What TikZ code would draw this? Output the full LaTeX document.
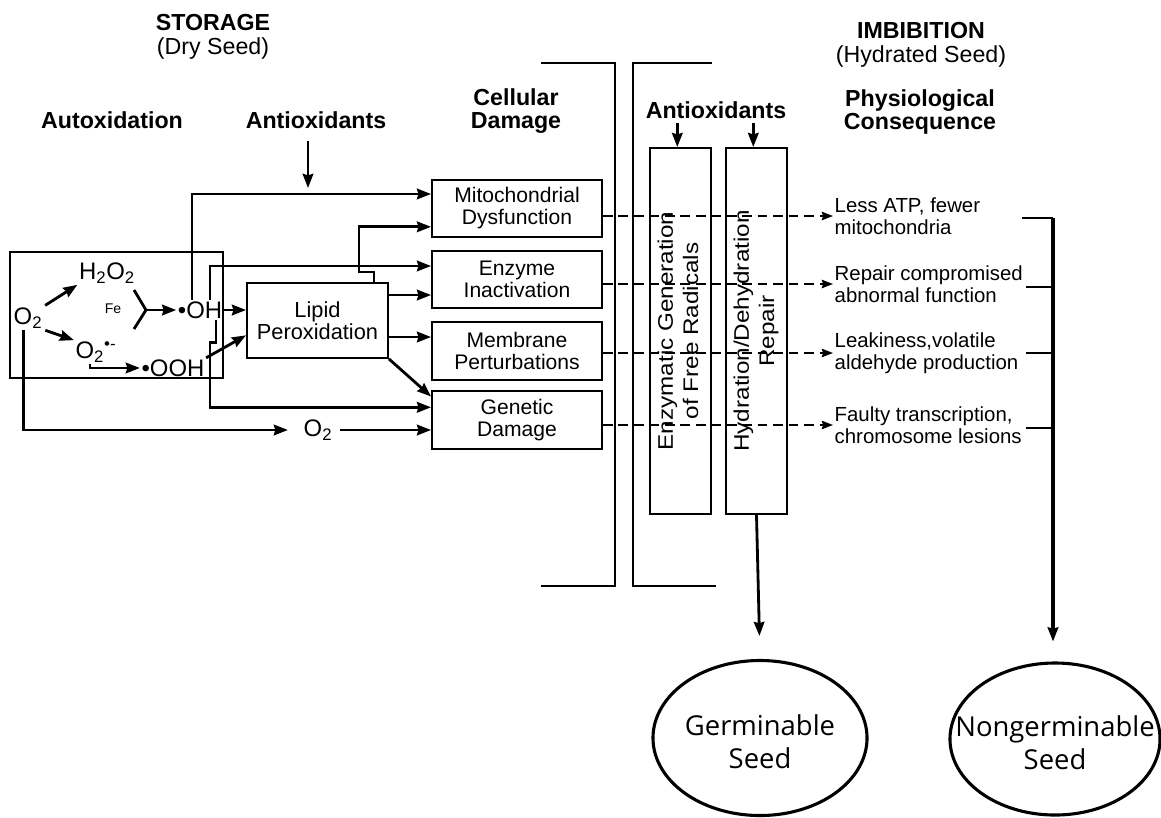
\documentclass[tikz,border=0pt]{standalone}
\usepackage{fontspec}
\setmainfont{Liberation Sans}
\newfontfamily\seedfont{Open Sans}
\usetikzlibrary{arrows.meta, positioning, shapes.geometric}

\begin{document}
\begin{tikzpicture}[
    x=0.025cm, y=-0.025cm,
    head/.style={align=center, inner sep=1pt, font=\fontsize{16.5}{17}\selectfont\bfseries},
    dmg/.style={draw, line width=1.3pt, minimum width=4.25cm, minimum height=1.43cm, align=center, inner sep=1pt, font=\fontsize{15}{15.6}\selectfont},
    chem/.style={inner sep=1pt, font=\fontsize{17}{19}\selectfont},
    col/.style={draw, line width=1.3pt, minimum width=1.525cm, minimum height=9.15cm, inner sep=0pt, font=\fontsize{15}{18}\selectfont},
    cons/.style={anchor=west, align=left, inner sep=1pt, font=\fontsize{14.5}{15.6}\selectfont},
    seed/.style={draw, ellipse, line width=2.2pt, inner sep=0pt, font=\seedfont\fontsize{19.5}{23}\selectfont},
    arr/.style={-{Stealth[length=10pt,width=7.5pt,inset=1pt]}, line width=2pt},
    dsh/.style={-{Stealth[length=8pt,width=6pt,inset=1pt]}, line width=1.4pt, dash pattern=on 7pt off 4pt},
    brk/.style={line width=2pt},
  ]
    \useasboundingbox (0,0) rectangle (1161,817);

    \node[head] (storage) at (213,37) {STORAGE\\{\mdseries (Dry Seed)}};
    \node[head] (autox) at (112,120) {Autoxidation};
    \node[head] (antiL) at (316,120) {Antioxidants};
    \node[head] (cellular) at (516,111) {Cellular\\Damage};
    \node[head] (imbib) at (921,45) {IMBIBITION\\{\mdseries (Hydrated Seed)}};
    \node[head] (physio) at (920,112) {Physiological\\Consequence};
    \node[head] (antiR) at (716,110) {Antioxidants};

    \node[draw, line width=1.3pt, minimum width=5.325cm, minimum height=3.15cm] (autobox) at (116.5,315) {};
    \node[chem] (o2) at (28,318) {O\textsubscript{2}};
    \node[chem] (h2o2) at (107,273) {H\textsubscript{2}O\textsubscript{2}};
    \node[chem] (sup) at (96,352) {O\textsubscript{2}\textsuperscript{\textbullet-}};
    \node[chem, font=\fontsize{10}{11}\selectfont] (fe) at (113,309) {Fe};
    \node[chem] (oh) at (200,310) {\textbullet OH};
    \node[chem] (ooh) at (173,368) {\textbullet OOH};
    \node[chem] (o2b) at (318,430) {O\textsubscript{2}};

    \node[draw, line width=1.3pt, minimum width=3.525cm, minimum height=1.875cm, align=center, font=\fontsize{15.5}{16}\selectfont] (lipid) at (317.5,320.5) {Lipid\\Peroxidation};

    \node[dmg] (mito) at (517,208.5) {Mitochondrial\\Dysfunction};
    \node[dmg] (enz) at (517,279.5) {Enzyme\\Inactivation};
    \node[dmg] (memb) at (517,351) {Membrane\\Perturbations};
    \node[dmg] (gen) at (517,420) {Genetic\\Damage};

    \coordinate (mitoA) at ([yshift=-0.375cm]mito.north west);
    \coordinate (mitoB) at ([yshift=0.28cm]mito.south west);
    \coordinate (enzA) at ([yshift=-0.4cm]enz.north west);
    \coordinate (enzB) at ([yshift=0.35cm]enz.south west);
    \coordinate (membA) at ([yshift=0.35cm]memb.west);
    \coordinate (genA) at ([yshift=-0.15cm]gen.north west);
    \coordinate (genB) at ([yshift=-0.42cm]gen.north west);
    \coordinate (fej) at (146,310);
    \coordinate (feA) at (134,290);
    \coordinate (feB) at (134,329);
    \coordinate (antiLtip) at (308,188);

    \draw[arr, shorten <=1pt] (o2.north east) -- (h2o2.south west);
    \draw[arr, shorten <=1pt] (o2.south east) -- (sup.north west);
    \draw[line width=2pt] (feA) -- (fej) -- (feB);
    \draw[arr] (fej) -- (oh.west);
    \draw[arr] ([xshift=-0.15cm]sup.south) |- (ooh.west);
    \draw[arr] (oh.east) -- (oh.east -| lipid.west);
    \draw[arr] (ooh.north east) -- ([yshift=-0.37cm]lipid.west);
    \draw[arr] ([xshift=-0.2cm]oh.north) |- (mitoA);
    \draw[arr] ([xshift=0.25cm]oh.north) |- (enzA);
    \draw[arr] ([xshift=0.4cm]oh.south) -- ++(0,22) -- ++(-6,0) |- (genB);
    \draw[arr] ([xshift=-0.375cm]lipid.north east) -- ++(0,-10) -- ++(-15,0) |- (mitoB);
    \draw[arr] (enzB -| lipid.east) -- (enzB);
    \draw[arr] (membA -| lipid.east) -- (membA);
    \draw[arr] (lipid.south east) -- (genA);
    \draw[arr, shorten >=10pt] ([xshift=-0.12cm]o2.south) |- (o2b.west);
    \draw[arr, shorten <=4pt] (o2b.east) -- (o2b.east -| gen.west);
    \draw[arr, shorten <=8pt] (antiLtip |- antiL.south) -- (antiLtip);

    \draw[brk] (541,63) -- (615,63) -- (615,586) -- (541,586);
    \draw[brk] (712,63) -- (633,63) -- (633,586) -- (716,586);

    \node[col] (enzcol) at (680.5,331) {\rotatebox{90}{\scalebox{1.15}[1]{\begin{tabular}{@{}c@{}}Enzymatic Generation\\of Free Radicals\end{tabular}}}};
    \node[col] (hydcol) at (756.5,331) {\rotatebox{90}{\scalebox{1.15}[1]{\begin{tabular}{@{}c@{}}Hydration/Dehydration\\Repair\end{tabular}}}};
    \draw[arr, shorten <=2pt] ([xshift=-0.08cm]antiR.south -| enzcol.north) -- ([xshift=-0.08cm]enzcol.north);
    \draw[arr, shorten <=2pt] ([xshift=-0.08cm]antiR.south -| hydcol.north) -- ([xshift=-0.08cm]hydcol.north);

    \node[cons] (c1) at (833,216) {Less ATP, fewer\\mitochondria};
    \node[cons] (c2) at (833,284) {Repair compromised\\abnormal function};
    \node[cons] (c3) at (833,353) {Leakiness,volatile\\aldehyde production};
    \node[cons] (c4) at (833,425) {Faulty transcription,\\chromosome lesions};
    \draw[dsh] (c1.west -| mito.east) -- (c1.west);
    \draw[dsh] (c2.west -| enz.east) -- (c2.west);
    \draw[dsh] (c3.west -| memb.east) -- (c3.west);
    \draw[dsh] (c4.west -| gen.east) -- (c4.west);

    \node[seed, minimum width=5.35cm, minimum height=3.875cm] (germ) at (760,738) {\makebox[0pt]{\raisebox{-0.37cm}[0pt][0pt]{\begin{tabular}{@{}c@{}}Germinable\\Seed\end{tabular}}}};
    \node[seed, minimum width=5.25cm, minimum height=3.8cm] (nong) at (1055,739) {\makebox[0pt]{\raisebox{-0.37cm}[0pt][0pt]{\begin{tabular}{@{}c@{}}Nongerminable\\Seed\end{tabular}}}};

    \coordinate (cbtop) at (1053,218);
    \draw[brk] (1022,218) -- (cbtop);
    \foreach \yy in {287,353,428}
      \draw[brk] (1026,\yy) -- (1053,\yy);
    \draw[arr, line width=2.2pt, shorten >=0.5cm] (cbtop) -- (cbtop |- nong.north);
    \draw[arr, shorten >=0.575cm] (hydcol.south) -- (germ.north);
  \end{tikzpicture}
\end{document}
